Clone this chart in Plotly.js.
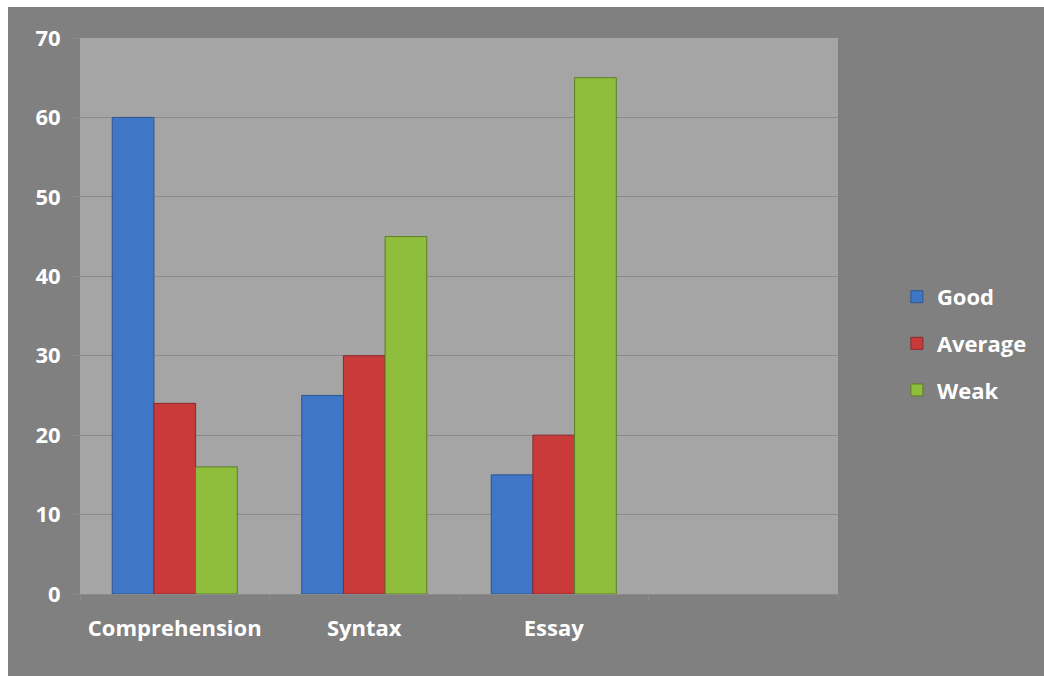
<!DOCTYPE html>
<html>
<head>
<meta charset="utf-8">
<script src="https://cdn.plot.ly/plotly-3.0.1.min.js"></script>
<style>
  html, body { margin: 0; padding: 0; background: #ffffff; }
  #chart { position: absolute; left: 8px; top: 7px; width: 1036px; height: 669px; }
</style>
</head>
<body>
<div id="chart"></div>
<script>
// Skill areas (the fourth slot is left empty on the axis)
const categories = ['Comprehension', 'Syntax', 'Essay', ' '];
const good    = [60, 25, 15, null];
const average = [24, 30, 20, null];
const weak    = [16, 45, 65, null];
const yTicks  = [0, 10, 20, 30, 40, 50, 60, 70];

const font = { family: '"Open Sans", "DejaVu Sans", sans-serif', size: 22, color: '#ffffff', weight: 700 };

function series(name, values, fill, edge, group) {
  return {
    type: 'bar',
    name: name,
    x: categories,
    y: values,
    legendgroup: group,
    marker: { color: fill, line: { color: edge, width: 1 } },
    hoverinfo: 'skip'
  };
}

const traces = [
  series('Good', good, '#3f77c6', '#2c5590', 'g1'),
  series('Average', average, '#c93b3b', '#8c2828', 'g2'),
  series('Weak', weak, '#8fbd3c', '#5d7d25', 'g3')
];

const layout = {
  width: 1036,
  height: 669,
  paper_bgcolor: '#808080',
  plot_bgcolor: '#a5a5a5',
  margin: { l: 72, r: 206, t: 31, b: 82 },
  font: font,
  barmode: 'group',
  bargap: 0.34,
  bargroupgap: 0,
  showlegend: true,
  legend: {
    xref: 'container', yref: 'container',
    x: 0.858, y: 0.598, xanchor: 'left', yanchor: 'top',
    bgcolor: 'rgba(0,0,0,0)',
    font: font,
    traceorder: 'grouped',
    tracegroupgap: 15,
    itemwidth: 30
  },
  xaxis: {
    type: 'category',
    categoryorder: 'array',
    categoryarray: categories,
    range: [-0.5, 3.5],
    tickson: 'boundaries',
    ticks: 'outside',
    ticklen: 5,
    tickcolor: '#8a8a8a',
    showline: true,
    linecolor: '#8a8a8a',
    linewidth: 1,
    showgrid: false,
    ticklabelstandoff: 15,
    tickfont: font,
    fixedrange: true
  },
  yaxis: {
    range: [0, 70],
    tickvals: yTicks,
    ticktext: yTicks.map(String),
    ticks: 'outside',
    ticklen: 8,
    tickcolor: '#8a8a8a',
    showgrid: true,
    gridcolor: '#8a8a8a',
    gridwidth: 1,
    zeroline: false,
    showline: false,
    ticklabelstandoff: 6,
    tickfont: font,
    fixedrange: true
  }
};

Plotly.newPlot('chart', traces, layout, { displayModeBar: false, staticPlot: true });
</script>
</body>
</html>
